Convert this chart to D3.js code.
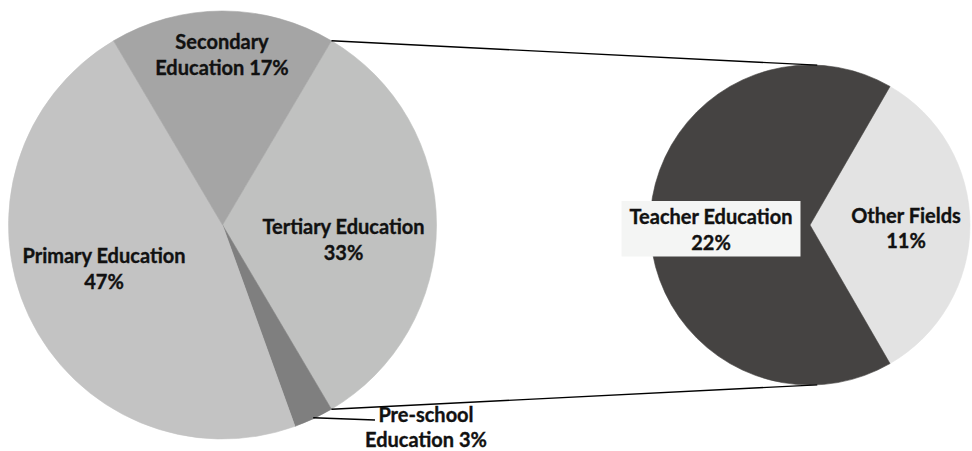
<!DOCTYPE html>
<html>
<head>
<meta charset="utf-8">
<script src="https://cdn.jsdelivr.net/npm/d3@7"></script>
<style>
  html, body { margin: 0; padding: 0; background: #ffffff; }
  svg { display: block; }
  text { font-family: Lato, "Open Sans", sans-serif; font-weight: 700; fill: #111111;
         stroke: #111111; stroke-width: 0.35px; }
</style>
</head>
<body>
<svg id="chart" width="972" height="451"></svg>
<script>
// Education spending shares; Tertiary is broken out in the second pie.
const mainCategories = ["Tertiary Education", "Pre-school Education", "Primary Education", "Secondary Education"];
const mainValues = [33, 3, 47, 17];
const mainLabelLines = [["Tertiary Education", "33%"], ["Pre-school", "Education 3%"], ["Primary Education", "47%"], ["Secondary", "Education 17%"]];

const subCategories = ["Other Fields", "Teacher Education"];
const subValues = [11, 22];
const subLabelLines = [["Other Fields", "11%"], ["Teacher Education", "22%"]];

// ---- layout ----
const W = 972, H = 451;
const main = { cx: 222.5, cy: 225, r: 214 };
const sub = { cx: 810, cy: 225, r: 160 };
const fontSize = 20, lineH = 25.5;
const deg = Math.PI / 180;

const mainColors = { "Tertiary Education": "#c0c1c0", "Pre-school Education": "#7f7f7f",
                     "Primary Education": "#c3c3c3", "Secondary Education": "#a5a5a5" };
const subColors = { "Other Fields": "#e3e3e3", "Teacher Education": "#454342" };

// label anchors, offset from each pie's centre (first-line baseline)
const mainLabelOffsets = { "Tertiary Education": [121, 9], "Pre-school Education": [203.5, 196.7],
                           "Primary Education": [-118.5, 38], "Secondary Education": [-0.5, -176] };
const subLabelOffsets = { "Other Fields": [96, -2.3], "Teacher Education": [-99, -1] };

const svg = d3.select("#chart");

// the broken-out slice is centred on the 3 o'clock direction
const mainTotal = d3.sum(mainValues);
const breakSpan = mainValues[0] / mainTotal * 2 * Math.PI;
const mainStart = Math.PI / 2 - breakSpan / 2;

const mainPie = d3.pie().sort(null).value(d => d.value)
  .startAngle(mainStart).endAngle(mainStart + 2 * Math.PI);
const mainArcs = mainPie(mainCategories.map((c, i) => ({ name: c, value: mainValues[i], lines: mainLabelLines[i] })));

const subSpanOther = subValues[0] / d3.sum(subValues) * 2 * Math.PI;
const subStart = 150 * deg - subSpanOther;
const subPie = d3.pie().sort(null).value(d => d.value)
  .startAngle(subStart).endAngle(subStart + 2 * Math.PI);
const subArcs = subPie(subCategories.map((c, i) => ({ name: c, value: subValues[i], lines: subLabelLines[i] })));

const mainArc = d3.arc().innerRadius(0).outerRadius(main.r);
const subArc = d3.arc().innerRadius(0).outerRadius(sub.r);

const gMain = svg.append("g").attr("transform", `translate(${main.cx},${main.cy})`);
gMain.selectAll("path").data(mainArcs).join("path")
  .attr("d", mainArc)
  .attr("fill", d => mainColors[d.data.name])
  .attr("stroke", d => mainColors[d.data.name])
  .attr("stroke-width", 0.6);

const gSub = svg.append("g").attr("transform", `translate(${sub.cx},${sub.cy})`);
gSub.selectAll("path").data(subArcs).join("path")
  .attr("d", subArc)
  .attr("fill", d => subColors[d.data.name])
  .attr("stroke", d => subColors[d.data.name])
  .attr("stroke-width", 0.6);

// connector lines from the broken-out slice edges to the second pie
const polar = (c, r, a) => [c.cx + r * Math.sin(a), c.cy - r * Math.cos(a)];
const brk = mainArcs[0];
const edgeOffset = 2.6 * deg;
const connectors = [
  [polar(main, main.r, brk.startAngle), polar(sub, sub.r, edgeOffset)],
  [polar(main, main.r, brk.endAngle), polar(sub, sub.r, Math.PI - edgeOffset)]
];
svg.append("g").selectAll("line").data(connectors).join("line")
  .attr("x1", d => d[0][0]).attr("y1", d => d[0][1])
  .attr("x2", d => d[1][0]).attr("y2", d => d[1][1])
  .attr("stroke", "#000").attr("stroke-width", 1.4);

// leader line for the small pre-school slice
const pre = mainArcs[1];
const preMid = (pre.startAngle + pre.endAngle) / 2;
const preStart = polar(main, main.r - 1, preMid);
const preOff = mainLabelOffsets[pre.data.name];
svg.append("line")
  .attr("x1", preStart[0]).attr("y1", preStart[1])
  .attr("x2", main.cx + preOff[0] - 51).attr("y2", main.cy + preOff[1] - 1.7)
  .attr("stroke", "#000").attr("stroke-width", 1.4);

function drawLabel(g, c, off, lines, boxFill) {
  const lg = g.append("g");
  const t = lg.append("text")
    .attr("text-anchor", "middle")
    .attr("font-size", fontSize);
  lines.forEach((ln, i) => {
    t.append("tspan").attr("x", c.cx + off[0]).attr("y", c.cy + off[1] + i * lineH).text(ln);
  });
  if (boxFill) {
    const bb = t.node().getBBox();
    lg.insert("rect", "text")
      .attr("x", bb.x - 8).attr("y", bb.y - 3)
      .attr("width", bb.width + 16).attr("height", bb.height + 6)
      .attr("fill", boxFill);
  }
}

const labels = svg.append("g");
mainArcs.forEach(d => drawLabel(labels, main, mainLabelOffsets[d.data.name], d.data.lines, null));
subArcs.forEach(d => drawLabel(labels, sub, subLabelOffsets[d.data.name], d.data.lines,
  d.data.name === "Teacher Education" ? "#f4f5f4" : null));
</script>
</body>
</html>
